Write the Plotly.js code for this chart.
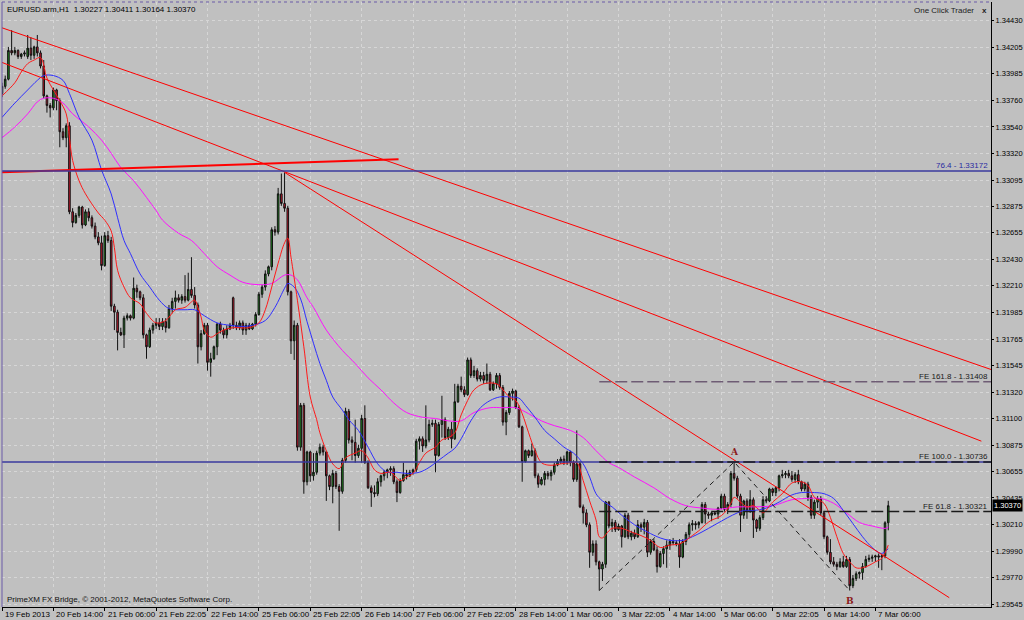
<!DOCTYPE html>
<html><head><meta charset="utf-8">
<script src="https://cdn.plot.ly/plotly-3.0.1.min.js"></script>
<style>html,body{margin:0;padding:0;background:#c0c0c0;}#chart{width:1024px;height:620px;}</style>
</head><body><div id="chart"></div>
<script>
const symbolTitle = "EURUSD.arm,H1  1.30227 1.30411 1.30164 1.30370";
const copyrightText = "PrimeXM FX Bridge, \u00a9 2001-2012, MetaQuotes Software Corp.";
const panelText = "One Click Trader";

const openP = [
1.3382,1.3388,1.3394,1.3418,1.3416,1.3418,1.3413,1.3415,1.3413,1.3420,
1.3414,1.3421,1.3416,1.3405,1.3380,1.3372,1.3370,1.3385,1.3376,1.3350,
1.3345,1.3355,1.3283,1.3274,1.3280,1.3287,1.3272,1.3283,1.3278,1.3271,
1.3262,1.3257,1.3238,1.3263,1.3259,1.3204,1.3199,1.3182,1.3180,1.3194,
1.3196,1.3194,1.3219,1.3216,1.3211,1.3180,1.3170,1.3184,1.3188,1.3190,
1.3187,1.3191,1.3186,1.3202,1.3208,1.3211,1.3209,1.3212,1.3209,1.3218,
1.3213,1.3205,1.3170,1.3181,1.3188,1.3157,1.3160,1.3170,1.3189,1.3184,
1.3180,1.3185,1.3211,1.3188,1.3186,1.3190,1.3184,1.3188,1.3185,1.3189,
1.3197,1.3214,1.3220,1.3231,1.3237,1.3268,1.3266,1.3298,1.3290,1.3286,
1.3216,1.3175,1.3188,1.3086,1.3121,1.3057,1.3082,1.3062,1.3065,1.3081,
1.3086,1.3082,1.3062,1.3053,1.3064,1.3053,1.3049,1.3075,1.3116,1.3092,
1.3090,1.3079,1.3085,1.3110,1.3073,1.3052,1.3048,1.3047,1.3057,1.3062,
1.3065,1.3067,1.3068,1.3057,1.3048,1.3058,1.3063,1.3062,1.3065,1.3067,
1.3091,1.3093,1.3087,1.3092,1.3105,1.3106,1.3079,1.3105,1.3109,1.3094,
1.3101,1.3093,1.3124,1.3137,1.3134,1.3130,1.3159,1.3146,1.3150,1.3143,
1.3146,1.3142,1.3147,1.3134,1.3139,1.3146,1.3136,1.3107,1.3115,1.3131,
1.3133,1.3119,1.3103,1.3074,1.3083,1.3079,1.3083,1.3062,1.3055,1.3059,
1.3064,1.3062,1.3065,1.3071,1.3074,1.3076,1.3073,1.3082,1.3073,1.3059,
1.3072,1.3036,1.3031,1.3021,1.2998,1.3005,1.2990,1.2984,1.2988,1.3040,
1.3020,1.3023,1.3017,1.3020,1.3011,1.3029,1.3011,1.3014,1.3011,1.3021,
1.3019,1.3023,1.2998,1.3007,1.3000,1.2986,1.2997,1.3001,1.3004,1.3007,
1.3006,1.3005,1.2994,1.3007,1.3013,1.3021,1.3022,1.3021,1.3023,1.3038,
1.3030,1.3029,1.3031,1.3030,1.3035,1.3045,1.3034,1.3038,1.3064,1.3060,
1.3045,1.3029,1.3041,1.3033,1.3042,1.3025,1.3018,1.3027,1.3042,1.3041,
1.3051,1.3048,1.3052,1.3062,1.3063,1.3064,1.3062,1.3059,1.3063,1.3057,
1.3051,1.3055,1.3044,1.3029,1.3040,1.3043,1.3031,1.3011,1.2998,1.2990,
1.2988,1.2986,1.2990,1.2986,1.2992,1.2970,1.2976,1.2980,1.2981,1.2986,
1.2992,1.2993,1.2994,1.2995,1.2994,1.2995,1.30227];

const highP = [
1.3391,1.3397,1.3421,1.3435,1.3421,1.3419,1.3416,1.3418,1.3431,1.3429,
1.3422,1.3431,1.3418,1.3410,1.3381,1.3374,1.3387,1.3386,1.3378,1.3353,
1.3357,1.3358,1.3286,1.3282,1.3288,1.3288,1.3285,1.3286,1.3280,1.3274,
1.3266,1.3263,1.3266,1.3267,1.3262,1.3206,1.3201,1.3186,1.3196,1.3198,
1.3197,1.3228,1.3222,1.3217,1.3214,1.3181,1.3186,1.3190,1.3194,1.3194,
1.3194,1.3194,1.3205,1.3211,1.3217,1.3214,1.3214,1.3230,1.3232,1.3245,
1.3220,1.3207,1.3184,1.3190,1.3190,1.3165,1.3171,1.3190,1.3191,1.3186,
1.3188,1.3190,1.3212,1.3191,1.3192,1.3192,1.3190,1.3190,1.3190,1.3199,
1.3216,1.3222,1.3234,1.3238,1.3270,1.3271,1.3303,1.3315,1.3316,1.3288,
1.3217,1.3192,1.3190,1.3123,1.3123,1.3083,1.3083,1.3081,1.3083,1.3089,
1.3088,1.3083,1.3063,1.3067,1.3066,1.3055,1.3077,1.3119,1.3118,1.3095,
1.3109,1.3088,1.3113,1.3121,1.3075,1.3054,1.3054,1.3060,1.3063,1.3067,
1.3068,1.3070,1.3070,1.3059,1.3060,1.3073,1.3067,1.3067,1.3068,1.3093,
1.3095,1.3095,1.3121,1.3109,1.3109,1.3109,1.3107,1.3129,1.3111,1.3103,
1.3107,1.3139,1.3139,1.3145,1.3137,1.3161,1.3161,1.3154,1.3152,1.3149,
1.3149,1.3156,1.3149,1.3141,1.3148,1.3148,1.3138,1.3117,1.3133,1.3135,
1.3134,1.3121,1.3104,1.3084,1.3084,1.3089,1.3085,1.3064,1.3061,1.3066,
1.3066,1.3067,1.3073,1.3076,1.3078,1.3079,1.3083,1.3083,1.3075,1.3100,
1.3074,1.3038,1.3034,1.3023,1.3008,1.3008,1.2991,1.2990,1.3041,1.3041,
1.3026,1.3025,1.3022,1.3021,1.3031,1.3031,1.3016,1.3017,1.3025,1.3023,
1.3026,1.3025,1.3009,1.3009,1.3003,1.2999,1.3003,1.3008,1.3009,1.3010,
1.3008,1.3009,1.3009,1.3015,1.3023,1.3025,1.3024,1.3024,1.3040,1.3040,
1.3032,1.3032,1.3032,1.3036,1.3047,1.3047,1.3040,1.3066,1.30736,1.3062,
1.3047,1.3042,1.3043,1.3050,1.3044,1.3026,1.3029,1.3045,1.3045,1.3052,
1.3052,1.3053,1.3063,1.3067,1.3066,1.3067,1.3066,1.3065,1.3067,1.3058,
1.3057,1.3057,1.3046,1.3042,1.3045,1.3045,1.3032,1.3012,1.3009,1.2994,
1.2990,1.2993,1.2995,1.2995,1.2994,1.2979,1.2982,1.2982,1.2989,1.2995,
1.2996,1.2996,1.2996,1.2997,1.2996,1.3024,1.30411];

const lowP = [
1.3379,1.3386,1.3393,1.3414,1.3414,1.3411,1.3411,1.3413,1.3411,1.3410,
1.3411,1.3413,1.3403,1.3378,1.3366,1.3362,1.3368,1.3368,1.3337,1.3343,
1.3337,1.3281,1.3270,1.3273,1.3278,1.3269,1.3271,1.3275,1.3269,1.3260,
1.3255,1.3234,1.3237,1.3257,1.3200,1.3184,1.3167,1.3179,1.3169,1.3192,
1.3192,1.3193,1.3211,1.3209,1.3177,1.3160,1.3169,1.3181,1.3185,1.3184,
1.3184,1.3182,1.3185,1.3198,1.3202,1.3207,1.3206,1.3207,1.3208,1.3211,
1.3202,1.3156,1.3167,1.3180,1.3150,1.3145,1.3159,1.3163,1.3181,1.3177,
1.3177,1.3184,1.3185,1.3184,1.3184,1.3180,1.3180,1.3184,1.3184,1.3187,
1.3196,1.3211,1.3217,1.3229,1.3234,1.3263,1.3264,1.3288,1.3283,1.3213,
1.3164,1.3159,1.3083,1.3083,1.3047,1.3054,1.3057,1.3058,1.3063,1.3079,
1.3079,1.3041,1.3050,1.3039,1.3051,1.3016,1.3047,1.3073,1.3089,1.3075,
1.3073,1.3077,1.3073,1.3072,1.3051,1.3036,1.3044,1.3045,1.3053,1.3058,
1.3060,1.3062,1.3055,1.3040,1.3047,1.3057,1.3059,1.3061,1.3063,1.3065,
1.3084,1.3082,1.3085,1.3090,1.3103,1.3065,1.3078,1.3094,1.3092,1.3092,
1.3085,1.3092,1.3123,1.3132,1.3128,1.3129,1.3144,1.3144,1.3141,1.3141,
1.3139,1.3139,1.3133,1.3133,1.3135,1.3134,1.3104,1.3096,1.3113,1.3125,
1.3118,1.3102,1.3057,1.3073,1.3077,1.3078,1.3060,1.3052,1.3054,1.3054,
1.3059,1.3058,1.3063,1.3070,1.3072,1.3071,1.3071,1.3070,1.3057,1.3057,
1.3035,1.3022,1.3019,1.2985,1.2995,1.2987,1.2966,1.2974,1.2985,1.3018,
1.3015,1.3015,1.3016,1.3002,1.3010,1.3009,1.3008,1.3009,1.3010,1.3015,
1.3013,1.2994,1.2996,1.2999,1.2981,1.2985,1.2988,1.2985,1.3000,1.3004,
1.3003,1.2985,1.2993,1.3004,1.3010,1.3016,1.3017,1.3018,1.3022,1.3022,
1.3026,1.3024,1.3029,1.3026,1.3034,1.3032,1.3030,1.3036,1.3058,1.3043,
1.3015,1.3026,1.3026,1.3031,1.3010,1.3015,1.3016,1.3025,1.3039,1.3040,
1.3045,1.3045,1.3049,1.3060,1.3060,1.3060,1.3057,1.3056,1.3055,1.3049,
1.3049,1.3041,1.3026,1.3026,1.3035,1.3029,1.3009,1.2996,1.2988,1.2986,
1.2983,1.2985,1.2985,1.2985,1.2966,1.2968,1.2974,1.2976,1.2975,1.2985,
1.2990,1.2990,1.2990,1.2985,1.2983,1.2993,1.30164];

const closeP = [
1.3388,1.3394,1.3418,1.3416,1.3418,1.3413,1.3415,1.3416,1.3420,1.3414,
1.3421,1.3416,1.3405,1.3380,1.3372,1.3370,1.3385,1.3376,1.3350,1.3345,
1.3355,1.3283,1.3274,1.3280,1.3287,1.3272,1.3283,1.3278,1.3271,1.3262,
1.3257,1.3238,1.3263,1.3259,1.3204,1.3199,1.3182,1.3180,1.3194,1.3196,
1.3194,1.3219,1.3216,1.3211,1.3180,1.3170,1.3184,1.3188,1.3190,1.3187,
1.3191,1.3186,1.3202,1.3208,1.3211,1.3209,1.3212,1.3209,1.3218,1.3213,
1.3205,1.3170,1.3181,1.3188,1.3157,1.3160,1.3170,1.3189,1.3184,1.3180,
1.3185,1.3188,1.3188,1.3186,1.3190,1.3184,1.3188,1.3185,1.3189,1.3197,
1.3214,1.3220,1.3231,1.3237,1.3268,1.3266,1.3298,1.3290,1.3286,1.3216,
1.3175,1.3188,1.3086,1.3121,1.3057,1.3082,1.3062,1.3065,1.3081,1.3086,
1.3082,1.3062,1.3053,1.3064,1.3053,1.3049,1.3075,1.3116,1.3092,1.3090,
1.3079,1.3085,1.3110,1.3073,1.3052,1.3048,1.3047,1.3057,1.3062,1.3065,
1.3067,1.3068,1.3057,1.3048,1.3058,1.3063,1.3062,1.3065,1.3067,1.3091,
1.3093,1.3087,1.3092,1.3105,1.3106,1.3079,1.3105,1.3109,1.3094,1.3101,
1.3093,1.3124,1.3137,1.3134,1.3130,1.3159,1.3146,1.3150,1.3143,1.3146,
1.3142,1.3147,1.3134,1.3139,1.3146,1.3136,1.3107,1.3115,1.3131,1.3133,
1.3119,1.3103,1.3074,1.3083,1.3079,1.3083,1.3062,1.3055,1.3059,1.3064,
1.3062,1.3065,1.3071,1.3074,1.3076,1.3073,1.3082,1.3073,1.3059,1.3072,
1.3036,1.3031,1.3021,1.2998,1.3005,1.2990,1.2984,1.2988,1.3040,1.3020,
1.3023,1.3017,1.3020,1.3011,1.3029,1.3011,1.3014,1.3011,1.3021,1.3019,
1.3023,1.2998,1.3007,1.3000,1.2986,1.2997,1.3001,1.3004,1.3007,1.3006,
1.3005,1.2994,1.3007,1.3013,1.3021,1.3022,1.3021,1.3023,1.3038,1.3030,
1.3029,1.3031,1.3030,1.3035,1.3045,1.3034,1.3038,1.3064,1.3060,1.3045,
1.3029,1.3041,1.3033,1.3042,1.3025,1.3018,1.3027,1.3042,1.3041,1.3051,
1.3048,1.3052,1.3062,1.3063,1.3064,1.3062,1.3059,1.3063,1.3057,1.3051,
1.3055,1.3044,1.3029,1.3040,1.3043,1.3031,1.3011,1.2998,1.2990,1.2988,
1.2986,1.2990,1.2986,1.2992,1.2970,1.2976,1.2980,1.2981,1.2986,1.2992,
1.2993,1.2994,1.2995,1.2994,1.2995,1.30227,1.30370];

// moving averages (bar index, value)
const maFastBar = [0,4,6,8,10,12,14,16,18,20,21,22,24,26,30,32,34,35,36,38,40,43,45,48,51,54,57,60,61,62,63,65,67,69,72,77,80,82,84,86,88,89,90,92,94,96,98,99,101,103,105,107,110,112,114,116,118,121,124,126,128,130,132,135,137,139,141,143,145,147,150,154,156,158,160,162,164,166,168,170,172,174,177,179,181,183,185,186,187,189,190,193,196,199,202,205,208,211,213,215,217,219,221,223,225,227,228,230,232,234,236,237,240,243,246,249,251,253,256,258,260,262,264,266,268,270,272,274,276];
const maFastVal = [1.3380,1.3391,1.3400,1.3407,1.3410,1.3412,1.3395,1.3385,1.3376,1.3365,1.3345,1.3326,1.3309,1.3298,1.3282,1.3276,1.3267,1.3253,1.3234,1.3220,1.3211,1.3206,1.3198,1.3190,1.3192,1.3201,1.3203,1.3209,1.3203,1.3195,1.3184,1.3178,1.3181,1.3184,1.3186,1.3186,1.3190,1.3201,1.3220,1.3240,1.3257,1.3261,1.3245,1.3209,1.3170,1.3128,1.3109,1.3098,1.3083,1.3072,1.3068,1.3077,1.3081,1.3083,1.3077,1.3067,1.3064,1.3065,1.3058,1.3061,1.3064,1.3073,1.3081,1.3086,1.3092,1.3094,1.3098,1.3113,1.3125,1.3134,1.3139,1.3139,1.3134,1.3128,1.3125,1.3114,1.3098,1.3083,1.3073,1.3071,1.3071,1.3072,1.3073,1.3073,1.3058,1.3041,1.3025,1.3011,1.3010,1.3016,1.3018,1.3018,1.3015,1.3012,1.3008,1.3002,1.3004,1.3005,1.3008,1.3012,1.3016,1.3021,1.3025,1.3027,1.3031,1.3039,1.3044,1.3040,1.3036,1.3037,1.3033,1.3031,1.3040,1.3047,1.3056,1.3057,1.3054,1.3044,1.3039,1.3027,1.3011,1.2997,1.2990,1.2985,1.2985,1.2987,1.2990,1.2993,1.3004];

const maMidBar = [0,4,8,11,13,16,19,21,24,28,31,34,36,38,40,43,46,49,52,57,60,63,67,71,75,78,82,85,88,89,91,93,95,97,99,101,103,106,108,111,114,117,120,123,126,130,133,136,139,141,143,146,149,152,155,158,161,163,166,169,172,175,178,181,183,185,187,190,193,197,201,205,208,212,215,218,222,226,229,231,234,238,242,246,249,253,256,259,262,265,268,271,274,276];
const maMidVal = [1.3362,1.3374,1.3385,1.3393,1.3397,1.3397,1.3393,1.3382,1.3362,1.3343,1.3318,1.3298,1.3278,1.3259,1.3248,1.3231,1.3220,1.3209,1.3202,1.3201,1.3201,1.3196,1.3190,1.3188,1.3187,1.3188,1.3192,1.3203,1.3219,1.3223,1.3220,1.3210,1.3191,1.3173,1.3156,1.3142,1.3128,1.3117,1.3109,1.3100,1.3086,1.3072,1.3065,1.3065,1.3064,1.3065,1.3069,1.3075,1.3081,1.3085,1.3093,1.3108,1.3119,1.3125,1.3128,1.3128,1.3127,1.3121,1.3111,1.3100,1.3093,1.3086,1.3081,1.3072,1.3061,1.3047,1.3041,1.3036,1.3029,1.3021,1.3015,1.3010,1.3008,1.3008,1.3011,1.3015,1.3021,1.3027,1.3031,1.3033,1.3033,1.3035,1.3040,1.3046,1.3048,1.3048,1.3047,1.3043,1.3033,1.3022,1.3011,1.3002,1.2997,1.3001];

const maSlowBar = [0,4,8,11,13,16,19,22,27,31,34,37,41,45,48,50,55,59,63,67,71,75,80,84,88,90,92,95,97,101,106,110,114,118,122,126,131,135,139,143,147,152,156,160,164,168,172,177,181,185,189,192,197,203,208,213,218,223,229,234,240,246,250,255,259,263,267,271,275,276];
const maSlowVal = [1.3345,1.3354,1.3365,1.3375,1.3378,1.3378,1.3374,1.3365,1.3354,1.3343,1.3332,1.3320,1.3309,1.3295,1.3284,1.3276,1.3265,1.3259,1.3248,1.3237,1.3230,1.3224,1.3222,1.3223,1.3230,1.3230,1.3226,1.3211,1.3203,1.3184,1.3167,1.3156,1.3144,1.3134,1.3123,1.3115,1.3111,1.3110,1.3108,1.3108,1.3115,1.3119,1.3119,1.3119,1.3114,1.3108,1.3104,1.3100,1.3094,1.3083,1.3073,1.3069,1.3061,1.3052,1.3043,1.3037,1.3035,1.3034,1.3036,1.3036,1.3037,1.3042,1.3043,1.3043,1.3039,1.3031,1.3023,1.3020,1.3018,1.3019];

// trendlines (bar index, price)
const trendABars = [0, 308];      const trendAPrices = [1.3437, 1.3151];
const trendBBars = [0, 305];      const trendBPrices = [1.3408, 1.3091];
const trendCBars = [88, 295];     const trendCPrices = [1.3316, 1.2960];
const trendDBars = [0, 123.5];    const trendDPrices = [1.3316, 1.3327];
// X-A-B pattern
const patternBars = [186, 228, 264];
const patternPrices = [1.2966, 1.30736, 1.2966];
const patternLabels = ["", "A", "B"];
// levels
const fib764Level = 1.33172;
const feRatios = ["161.8", "100.0", "61.8"];
const feLevels = [1.31408, 1.30736, 1.30321];
const feStartBar = 186;
const lastPrice = 1.30370;

const timeLabelBars = [0,16,32,48,64,80,96,112,128,144,160,176,192,208,224,240,256,272];
const timeLabels = ["19 Feb 2013","20 Feb 14:00","21 Feb 06:00","21 Feb 22:05","22 Feb 14:00","25 Feb 06:00","25 Feb 22:05","26 Feb 14:00","27 Feb 06:00","27 Feb 22:05","28 Feb 14:00","1 Mar 06:00","3 Mar 22:05","4 Mar 14:00","5 Mar 06:00","5 Mar 22:05","6 Mar 14:00","7 Mar 06:00"];
const priceTicks = [1.34430,1.34205,1.33985,1.33760,1.33540,1.33320,1.33095,1.32875,1.32655,1.32430,1.32210,1.31985,1.31765,1.31545,1.31320,1.31100,1.30875,1.30655,1.30435,1.30210,1.29990,1.29770,1.29545];

const xRange = [0, 308];
const yRange = [1.29522, 1.34586];
const barIndex = openP.map((_, i) => i);

const FONT = 'Liberation Sans, Arial, sans-serif';
const traces = [
  {type:'candlestick', x: barIndex, open: openP, high: highP, low: lowP, close: closeP,
   increasing:{line:{color:'#111111', width:1}, fillcolor:'#1f8a1f'},
   decreasing:{line:{color:'#111111', width:1}, fillcolor:'#d81830'},
   whiskerwidth:0, hoverinfo:'skip'},
  {type:'scatter', mode:'lines', x: maSlowBar, y: maSlowVal, line:{color:'#ff10ff', width:1, shape:'spline'}, hoverinfo:'skip'},
  {type:'scatter', mode:'lines', x: maMidBar, y: maMidVal, line:{color:'#2f2fff', width:1, shape:'spline'}, hoverinfo:'skip'},
  {type:'scatter', mode:'lines', x: maFastBar, y: maFastVal, line:{color:'#ff1a1a', width:1, shape:'spline'}, hoverinfo:'skip'},
  {type:'scatter', mode:'lines', x: trendABars, y: trendAPrices, line:{color:'#ff0000', width:1}, hoverinfo:'skip'},
  {type:'scatter', mode:'lines', x: trendBBars, y: trendBPrices, line:{color:'#ff0000', width:1}, hoverinfo:'skip'},
  {type:'scatter', mode:'lines', x: trendCBars, y: trendCPrices, line:{color:'#ff0000', width:1}, hoverinfo:'skip'},
  {type:'scatter', mode:'lines', x: trendDBars, y: trendDPrices, line:{color:'#ff0000', width:2}, hoverinfo:'skip'},
  {type:'scatter', mode:'lines', x: patternBars, y: patternPrices, line:{color:'#202020', width:1, dash:'5px,4px'}, hoverinfo:'skip'}
];

const shapes = [
  {type:'line', xref:'paper', x0:0, x1:1, yref:'y', y0:fib764Level, y1:fib764Level, line:{color:'#3a3a9e', width:1.5}},
  {type:'line', xref:'paper', x0:0, x1:1, yref:'y', y0:feLevels[1], y1:feLevels[1], line:{color:'#3a3a9e', width:1.5}},
  {type:'line', xref:'paper', x0:0, x1:0, yref:'paper', y0:0, y1:1, line:{color:'#6a5aa8', width:1}},
  {type:'line', xref:'paper', x0:0, x1:1, yref:'paper', y0:1, y1:1, line:{color:'#6a5aa8', width:1, dash:'dot'}}
];
const feColors = ['#6e5c74', '#1a1a1a', '#1a1a1a'];
feLevels.forEach((lv, k) => {
  shapes.push({type:'line', xref:'x', x0:feStartBar, x1:xRange[1], yref:'y', y0:lv, y1:lv,
    line:{color:feColors[k], width:1.5, dash:'12px,4px'}});
});

const annFont = {family: FONT, size: 8, color:'#000'};
const annotations = [
  {xref:'paper', yref:'paper', x:0, y:1, xanchor:'left', yanchor:'top', xshift:3, yshift:-1, text:symbolTitle, showarrow:false, font:annFont},
  {xref:'paper', yref:'paper', x:0.985, y:1, xanchor:'right', yanchor:'top', yshift:-2, text:panelText, showarrow:false, font:{family:FONT, size:8, color:'#222'}},
  {xref:'paper', yref:'paper', x:0.9935, y:1, xanchor:'center', yanchor:'top', yshift:-2, text:'<b>x</b>', showarrow:false, font:{family:FONT, size:8, color:'#222'}},
  {xref:'paper', yref:'paper', x:0, y:0, xanchor:'left', yanchor:'bottom', xshift:3, yshift:1, text:copyrightText, showarrow:false, font:{family:FONT, size:8, color:'#111'}},
  {xref:'paper', yref:'y', x:1, y:fib764Level, xanchor:'right', yanchor:'bottom', xshift:-1, yshift:-1, text:'76.4 - ' + fib764Level.toFixed(5), showarrow:false, font:{family:FONT, size:8, color:'#2a2aa0'}},
  {xref:'paper', yref:'y', x:1, y:lastPrice, xanchor:'left', yanchor:'middle', xshift:1, text:lastPrice.toFixed(5), showarrow:false, bgcolor:'#000000', borderpad:1, font:{family:FONT, size:7.5, color:'#ffffff'}}
];
feLevels.forEach((lv, k) => {
  annotations.push({xref:'paper', yref:'y', x:1, y:lv, xanchor:'right', yanchor:'bottom', xshift:-1, yshift:-1,
    text:'FE ' + feRatios[k] + ' - ' + lv.toFixed(5), showarrow:false, font:{family:FONT, size:8, color:'#1a1a1a'}});
});
timeLabelBars.forEach((b, k) => {
  annotations.push({xref:'x', yref:'paper', x:b, y:0, xanchor:'left', yanchor:'top', xshift:1, yshift:-1,
    text:timeLabels[k], showarrow:false, font:annFont});
});
patternBars.forEach((b, k) => {
  if (!patternLabels[k]) return;
  const up = patternPrices[k] > patternPrices[0] + 0.001;
  annotations.push({xref:'x', yref:'y', x:b, y:patternPrices[k], xanchor:'center', yanchor: up ? 'bottom' : 'top',
    yshift: up ? 3 : -3, text:'<b>' + patternLabels[k] + '</b>', showarrow:false, font:{family:'DejaVu Serif, serif', size:9, color:'#8b1a1a'}});
});

const layout = {
  width:1024, height:620,
  margin:{l:2, r:33, t:2, b:13, pad:0},
  paper_bgcolor:'#c0c0c0', plot_bgcolor:'#c0c0c0',
  showlegend:false,
  font:{family:FONT, size:8, color:'#000'},
  xaxis:{range:xRange, tickvals:timeLabelBars, showticklabels:false, ticks:'outside', ticklen:3, tickcolor:'#000',
    showgrid:true, gridcolor:'#d6d6d6', griddash:'dot', showline:true, linecolor:'#000', linewidth:1,
    zeroline:false, rangeslider:{visible:false}, fixedrange:true},
  yaxis:{range:yRange, side:'right', tickvals:priceTicks, ticktext:priceTicks.map(v => v.toFixed(5)),
    ticks:'outside', ticklen:2, tickcolor:'#000', tickfont:{family:FONT, size:7.5, color:'#000'},
    ticklabelstandoff:0,
    showgrid:true, gridcolor:'#d6d6d6', griddash:'dot', showline:true, linecolor:'#000', linewidth:1,
    zeroline:false, fixedrange:true},
  shapes: shapes,
  annotations: annotations
};

Plotly.newPlot('chart', traces, layout, {displayModeBar:false, staticPlot:true});
</script>
</body></html>
